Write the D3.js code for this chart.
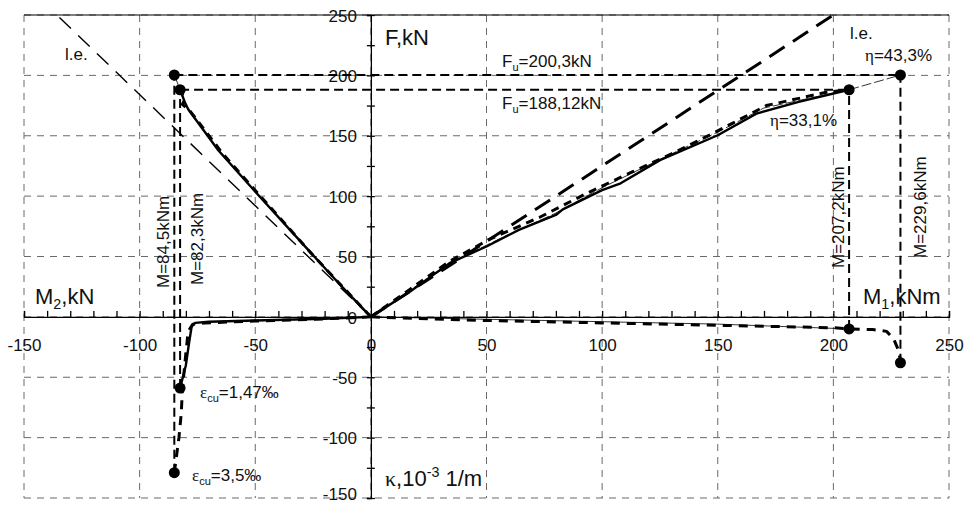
<!DOCTYPE html>
<html>
<head>
<meta charset="utf-8">
<script src="https://cdn.jsdelivr.net/npm/d3@7"></script>
<style>
  body { margin: 0; background: #fff; }
  svg { display: block; font-family: "Liberation Sans", Arial, sans-serif; }
</style>
</head>
<body>
<div id="chart"></div>
<script>
// axis ticks
const xTicks = [-150, -100, -50, 0, 50, 100, 150, 200, 250];
const yTicks = [-150, -100, -50, 0, 50, 100, 150, 200, 250];

// linear elastic lines (l.e.)
const leLeft = [[0, 0], [-135.8, 250]];
const leRight = [[0, 0], [200, 250]];

// F - M1 (right branch)
const rightSolid = [[0, 0], [17, 21], [34, 44.5], [50, 58.3], [64, 72], [80, 84.4], [83, 89], [100, 105], [108, 110.6], [125, 129.8], [150, 150.4], [166.7, 168.3], [185, 178], [206.8, 188.1]];
const rightDashed = [[0, 0], [17, 23], [34, 46], [51, 64], [73, 82.5], [93, 102], [113, 120], [130, 135], [148, 152], [171, 175], [197, 186], [206.8, 188.1]];
const rightThin = [[0, 0], [20, 26], [40, 50], [55, 64], [80, 86], [100, 107], [130, 135], [150, 153], [170, 173], [206.8, 188.1], [229, 200.3]];

// F - M2 (left branch)
const leftSolid = [[0, 0], [-14, 28], [-27.1, 55.5], [-48.7, 100.9], [-66, 138], [-79, 172], [-80.5, 178], [-82.5, 188.1]];
const leftDashed = [[0, 0], [-25, 51], [-45, 94], [-64, 135], [-78, 170], [-81.5, 176], [-80.5, 180], [-82.5, 188.1]];
const leftThin = [[-82.5, 188.1], [-85, 200.3]];

// curvature branch (below axis)
const botLeftSolid = [[0, 0], [-20, -1.5], [-50, -3], [-70, -4], [-76, -5], [-77.5, -8], [-78.5, -20], [-80, -40], [-82.5, -59]];
const botLeftDashed = [[0, 0], [-25, -2], [-50, -3.5], [-72, -5], [-77, -6], [-79, -12], [-80, -30], [-81.5, -60], [-82, -80], [-83, -100], [-85, -129]];
const botRightDashed = [[0, 0], [50, -3], [100, -5], [150, -7], [200, -9], [206.8, -10], [217, -10.5], [223, -12], [226, -18], [228, -27], [229, -36]];
const botRightThin = [[0, 0], [50, -2], [100, -4], [150, -6], [206.8, -10]];

// ultimate points and guide lines
const markers = [[-85, 200.3], [-82.5, 188.1], [206.8, 188.1], [229, 200.3], [-82.5, -59], [-85, -129], [206.8, -10], [229, -38]];
const vGuides = [[-85, -129, 200.3], [-82.5, -59, 188.1], [206.8, -10, 188.1], [229, -38, 200.3]];
const hGuides = [[200.3, -85, 229], [188.1, -82.5, 206.8]];

const width = 969;
const height = 506;

const x = d3.scaleLinear().domain([-150, 250]).range([24, 949]);
const y = d3.scaleLinear().domain([-150, 250]).range([498, 15]);

const svg = d3.select("#chart")
  .append("svg")
  .attr("width", width)
  .attr("height", height);

// grid
const gridColor = "#6a6a6a";
svg.append("g").selectAll("line")
  .data(xTicks)
  .enter()
  .append("line")
  .attr("x1", d => x(d)).attr("x2", d => x(d))
  .attr("y1", y(250)).attr("y2", y(-150))
  .attr("stroke", gridColor)
  .attr("stroke-width", 1)
  .attr("stroke-dasharray", "7,6");

svg.append("g").selectAll("line")
  .data(yTicks)
  .enter()
  .append("line")
  .attr("y1", d => y(d)).attr("y2", d => y(d))
  .attr("x1", x(-150)).attr("x2", x(250))
  .attr("stroke", gridColor)
  .attr("stroke-width", 1)
  .attr("stroke-dasharray", "7,6");

// top frame line
svg.append("line")
  .attr("x1", x(-150)).attr("x2", x(250))
  .attr("y1", y(250)).attr("y2", y(250))
  .attr("stroke", "#000").attr("stroke-width", 1.2);

const plain = d => String(d); // hyphen minus like the original

// x axis: minor ticks above, labels below
svg.append("g")
  .attr("transform", `translate(0,${y(0)})`)
  .call(d3.axisTop(x).tickValues(d3.range(-150, 251, 10)).tickSize(6).tickFormat(""))
  .call(g => g.selectAll("path,line").attr("stroke", "#000").attr("stroke-width", 1.3));

svg.append("g")
  .attr("transform", `translate(0,${y(0)})`)
  .call(d3.axisBottom(x).tickValues(xTicks).tickSize(0).tickPadding(22).tickFormat(plain))
  .call(g => g.select(".domain").remove())
  .call(g => g.selectAll("text").attr("font-size", 17).attr("fill", "#111").attr("font-family", "Liberation Sans, Arial"));

// y axis: ticks both sides every 25
svg.append("g")
  .attr("transform", `translate(${x(0)},0)`)
  .call(d3.axisLeft(y).tickValues(d3.range(-150, 251, 25)).tickSize(4).tickFormat(""))
  .call(g => g.selectAll("path,line").attr("stroke", "#000").attr("stroke-width", 1.3));

svg.append("g")
  .attr("transform", `translate(${x(0)},0)`)
  .call(d3.axisRight(y).tickValues(d3.range(-150, 251, 25)).tickSize(4).tickFormat(""))
  .call(g => g.select(".domain").remove())
  .call(g => g.selectAll("line").attr("stroke", "#000").attr("stroke-width", 1.3));

svg.append("g")
  .attr("transform", `translate(${x(0)},0)`)
  .call(d3.axisLeft(y).tickValues(yTicks).tickSize(0).tickPadding(14).tickFormat(plain))
  .call(g => g.select(".domain").remove())
  .call(g => g.selectAll("text")
    .attr("font-size", 17).attr("fill", "#111")
    .attr("dy", d => d === -150 ? "0.1em" : "0.36em") // keep the bottom label inside the page
    .attr("font-family", "Liberation Sans, Arial"));

const line = d3.line().x(d => x(d[0])).y(d => y(d[1]));

function drawLine(data, w, dash) {
  svg.append("path")
    .datum(data)
    .attr("d", line)
    .attr("fill", "none")
    .attr("stroke", "#000")
    .attr("stroke-width", w)
    .attr("stroke-dasharray", dash)
    .attr("stroke-linejoin", "round");
}

// l.e. lines
drawLine(leLeft, 1.4, "16,10");
drawLine(leRight, 3, "18,10");

// guide lines
vGuides.forEach(d => drawLine([[d[0], d[1]], [d[0], d[2]]], 2, "9,5"));
hGuides.forEach(d => drawLine([[d[1], d[0]], [d[2], d[0]]], 2, "9,5"));

// curves
drawLine(rightThin, 0.8, "10,3");
drawLine(rightDashed, 3, "8,6");
drawLine(rightSolid, 2.4, null);
drawLine(leftThin, 0.8, null);
drawLine(leftDashed, 3, "8,6");
drawLine(leftSolid, 2.4, null);
drawLine(botRightThin, 0.8, null);
drawLine(botRightDashed, 3, "9,7");
drawLine(botLeftDashed, 3, "9,7");
drawLine(botLeftSolid, 2.4, null);

svg.append("g").selectAll("circle")
  .data(markers)
  .enter()
  .append("circle")
  .attr("cx", d => x(d[0]))
  .attr("cy", d => y(d[1]))
  .attr("r", 5.5)
  .attr("fill", "#000");

// labels
function label(tx, ty, size, parts, rotate) {
  const t = svg.append("text")
    .attr("transform", `translate(${tx},${ty})` + (rotate ? " rotate(-90)" : ""))
    .attr("font-size", size)
    .attr("fill", "#111");
  parts.forEach(p => {
    const s = t.append("tspan").text(p.t);
    if (p.sub) s.attr("font-size", size * 0.65).attr("dy", size * 0.22);
    if (p.sup) s.attr("font-size", size * 0.65).attr("dy", -size * 0.4);
    if (p.back) s.attr("dy", p.back);
    if (p.serif) s.attr("font-family", "Liberation Serif, Times New Roman");
  });
}

label(385, 45, 22, [{ t: "F,kN" }]);
label(35, 304, 22, [{ t: "M" }, { t: "2", sub: true }, { t: ",kN", back: -22 * 0.22 }]);
label(863, 304, 22, [{ t: "M" }, { t: "1", sub: true }, { t: ",kNm", back: -22 * 0.22 }]);
label(385, 486, 22, [{ t: "κ", serif: true }, { t: ",10" }, { t: "-3", sup: true }, { t: " 1/m", back: 22 * 0.4 }]);

label(65, 60, 17, [{ t: "l.e." }]);
label(850, 39, 17, [{ t: "l.e." }]);
label(865, 61, 17, [{ t: "η", serif: true }, { t: "=43,3%" }]);
label(770, 126, 17, [{ t: "η", serif: true }, { t: "=33,1%" }]);
label(502, 67, 17, [{ t: "F" }, { t: "u", sub: true }, { t: "=200,3kN", back: -17 * 0.22 }]);
label(502, 109, 17, [{ t: "F" }, { t: "u", sub: true }, { t: "=188,12kN", back: -17 * 0.22 }]);
label(200, 398, 17, [{ t: "ε", serif: true }, { t: "cu", sub: true }, { t: "=1,47‰", back: -17 * 0.22 }]);
label(192, 481, 17, [{ t: "ε", serif: true }, { t: "cu", sub: true }, { t: "=3,5‰", back: -17 * 0.22 }]);

label(169, 288, 17, [{ t: "M=84,5kNm" }], true);
label(202.5, 285, 17, [{ t: "M=82,3kNm" }], true);
label(844, 268, 17, [{ t: "M=207,2kNm" }], true);
label(925.5, 258, 17, [{ t: "M=229,6kNm" }], true);
</script>
</body>
</html>
